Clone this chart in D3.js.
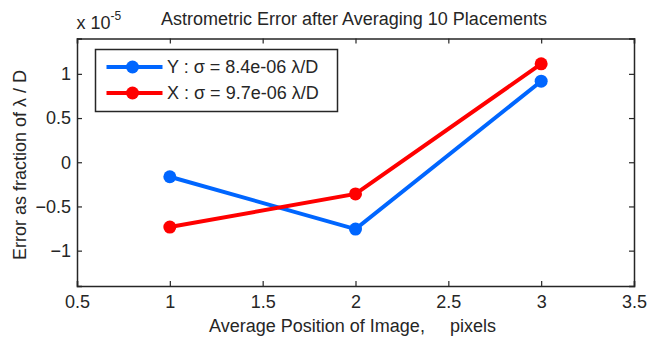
<!DOCTYPE html>
<html>
<head>
<meta charset="utf-8">
<script src="https://cdn.jsdelivr.net/npm/d3@7"></script>
<style>
  body { margin: 0; background: #fff; }
  text { font-family: "Liberation Sans", Arial, sans-serif; fill: #262626; }
</style>
</head>
<body>
<svg id="chart" width="648" height="341"></svg>
<script>
const positions = [1, 2, 3];
const errY = [-0.164, -0.756, 0.917]; // x 1e-5
const errX = [-0.733, -0.358, 1.113];
const xTicks = [0.5, 1, 1.5, 2, 2.5, 3, 3.5];
const yTicks = [-1, -0.5, 0, 0.5, 1];
const seriesNames = ['Y : \u03c3 = 8.4e-06 \u03bb/D', 'X : \u03c3 = 9.7e-06 \u03bb/D'];
const seriesColors = ['#0066ff', '#ff0000'];

const svg = d3.select('#chart');
const margin = { top: 38.5, right: 14, bottom: 55, left: 77 };
const width = 648 - margin.left - margin.right;
const height = 341 - margin.top - margin.bottom;
const fontSize = 18;

const g = svg.append('g')
  .attr('transform', `translate(${margin.left},${margin.top})`);

const x = d3.scaleLinear().domain([0.5, 3.5]).range([0, width]);
const y = d3.scaleLinear().domain([-1.4, 1.4]).range([height, 0]);

const fmt = d => d3.format('')(d);
const axisColor = '#262626';

// axes with inward ticks
const xb = g.append('g').attr('transform', `translate(0,${height})`)
  .call(d3.axisBottom(x).tickValues(xTicks).tickSize(-5).tickPadding(9.5).tickFormat(fmt));
const xt = g.append('g')
  .call(d3.axisTop(x).tickValues(xTicks).tickSize(-5).tickFormat(''));
const yl = g.append('g')
  .call(d3.axisLeft(y).tickValues(yTicks).tickSize(-5).tickPadding(6).tickFormat(fmt));
const yr = g.append('g').attr('transform', `translate(${width},0)`)
  .call(d3.axisRight(y).tickValues(yTicks).tickSize(-5).tickFormat(''));

[xb, xt, yl, yr].forEach(a => {
  a.select('.domain').attr('stroke', axisColor).attr('stroke-width', 1.5);
  a.selectAll('.tick line').attr('stroke', axisColor).attr('stroke-width', 1.2);
  a.selectAll('.tick text').attr('font-size', fontSize).attr('fill', axisColor)
    .style('font-family', '"Liberation Sans", Arial, sans-serif');
});

// series
const series = [errY, errX];
const line = d3.line().x((d, i) => x(positions[i])).y(d => y(d));
series.forEach((vals, s) => {
  g.append('path').datum(vals)
    .attr('d', line)
    .attr('fill', 'none')
    .attr('stroke', seriesColors[s])
    .attr('stroke-width', 4);
  g.selectAll(null).data(vals).enter().append('circle')
    .attr('cx', (d, i) => x(positions[i]))
    .attr('cy', d => y(d))
    .attr('r', 6.5)
    .attr('fill', seriesColors[s]);
});

// legend
const leg = svg.append('g').attr('transform', 'translate(95.5,49.5)');
leg.append('rect').attr('width', 242).attr('height', 62)
  .attr('fill', '#fff').attr('stroke', axisColor).attr('stroke-width', 1.5);
seriesNames.forEach((name, i) => {
  const ry = 17.5 + i * 26;
  leg.append('line').attr('x1', 11).attr('x2', 67).attr('y1', ry).attr('y2', ry)
    .attr('stroke', seriesColors[i]).attr('stroke-width', 4);
  leg.append('circle').attr('cx', 37).attr('cy', ry).attr('r', 6.5).attr('fill', seriesColors[i]);
  leg.append('text').attr('x', 71.5).attr('y', ry + 6.4).attr('font-size', fontSize).text(name);
});

// title and labels
svg.append('text').attr('x', 354).attr('y', 25)
  .attr('text-anchor', 'middle').attr('font-size', fontSize)
  .text('Astrometric Error after Averaging 10 Placements');

const mult = svg.append('text').attr('x', 76.5).attr('y', 29).attr('font-size', fontSize);
mult.append('tspan').text('x 10');
mult.append('tspan').attr('dy', -9).attr('font-size', 12).text('-5');

svg.append('text').attr('x', 352.5).attr('y', 331.5)
  .attr('text-anchor', 'middle').attr('font-size', fontSize)
  .attr('xml:space', 'preserve')
  .text('Average Position of Image,     pixels');

svg.append('text')
  .attr('transform', `translate(25.5,165) rotate(-90)`)
  .attr('text-anchor', 'middle').attr('font-size', fontSize)
  .text('Error as fraction of \u03bb / D');
</script>
</body>
</html>
